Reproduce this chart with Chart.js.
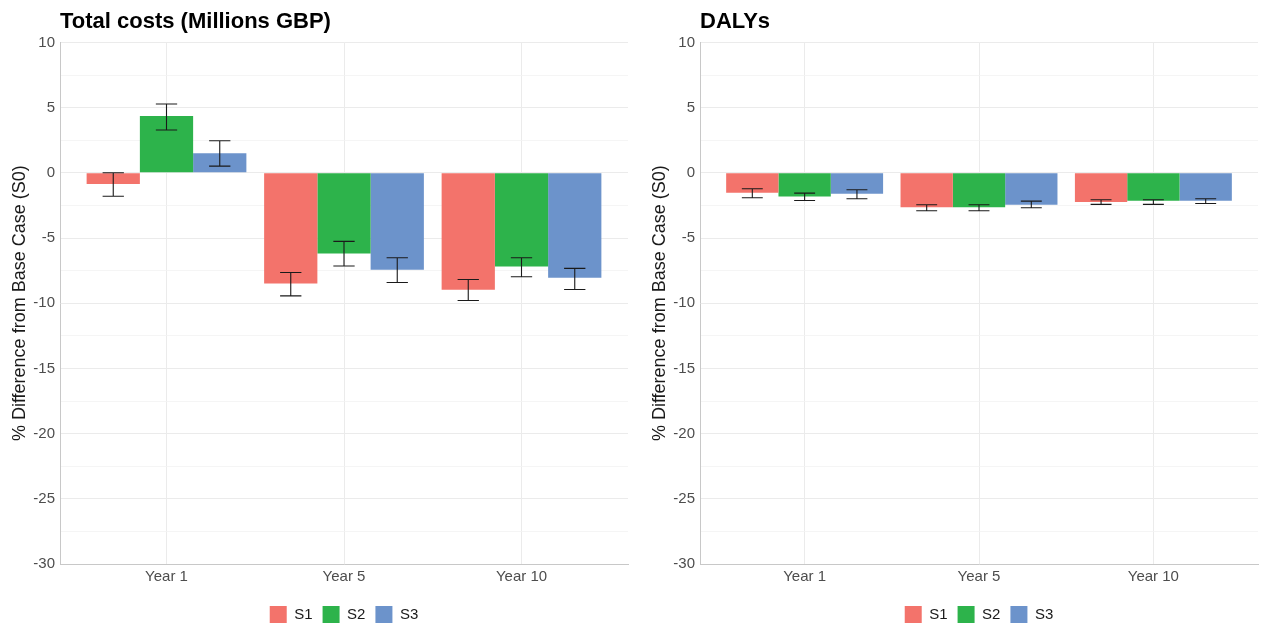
<!DOCTYPE html>
<html><head><meta charset="utf-8">
<script src="https://cdn.jsdelivr.net/npm/chart.js@4"></script>
<style>
html,body{margin:0;padding:0;background:#fff;}
#wrap{width:1261px;height:624px;position:relative;overflow:hidden;}
.pane{position:absolute;top:0;height:624px;}
</style></head><body>
<div id="wrap">
<div class="pane" style="left:0;width:640px"><canvas id="c1" width="640" height="624"></canvas></div>
<div class="pane" style="left:640px;width:621px"><canvas id="c2" width="621" height="624"></canvas></div>
</div>
<script>
const categories = ['Year 1','Year 5','Year 10'];
const seriesNames = ['S1','S2','S3'];
const seriesColors = ['#F3736B','#2DB34B','#6C93CB'];

// Total costs
const costS1 = [-0.85, -8.49, -8.97];
const costS2 = [4.36, -6.18, -7.18];
const costS3 = [1.49, -7.44, -8.05];
const costS1Lo = [-1.80, -9.44, -9.79], costS1Hi = [0.00, -7.64, -8.18];
const costS2Lo = [3.28, -7.15, -7.97], costS2Hi = [5.28, -5.26, -6.51];
const costS3Lo = [0.51, -8.41, -8.95], costS3Hi = [2.46, -6.51, -7.33];

// DALYs
const dalyS1 = [-1.53, -2.65, -2.24];
const dalyS2 = [-1.81, -2.65, -2.14];
const dalyS3 = [-1.61, -2.45, -2.14];
const dalyS1Lo = [-1.91, -2.91, -2.42], dalyS1Hi = [-1.22, -2.45, -2.07];
const dalyS2Lo = [-2.12, -2.91, -2.42], dalyS2Hi = [-1.56, -2.45, -2.07];
const dalyS3Lo = [-1.99, -2.68, -2.35], dalyS3Hi = [-1.30, -2.17, -1.99];

const FONT = "'Liberation Sans', Arial, sans-serif";

const errorBars = {
  id: 'errorBars',
  afterDatasetsDraw(chart) {
    const ctx = chart.ctx, ys = chart.scales.y;
    chart.data.datasets.forEach((ds, di) => {
      const meta = chart.getDatasetMeta(di);
      meta.data.forEach((bar, i) => {
        const lo = ys.getPixelForValue(ds.errLo[i]);
        const hi = ys.getPixelForValue(ds.errHi[i]);
        const half = bar.width * 0.2;
        ctx.save();
        ctx.strokeStyle = '#1a1a1a';
        ctx.lineWidth = 1.1;
        ctx.beginPath();
        ctx.moveTo(bar.x, lo); ctx.lineTo(bar.x, hi);
        ctx.moveTo(bar.x - half, lo); ctx.lineTo(bar.x + half, lo);
        ctx.moveTo(bar.x - half, hi); ctx.lineTo(bar.x + half, hi);
        ctx.stroke();
        ctx.restore();
      });
    });
  }
};

function isMajor(v) { return Math.abs(v % 5) < 1e-9; }

function makeChart(id, title, vals, los, his, padRight) {
  const datasets = seriesNames.map((n, s) => ({
    label: n,
    data: vals[s].map((v, i) => ({x: i, y: v})),
    errLo: los[s], errHi: his[s],
    backgroundColor: seriesColors[s],
    borderWidth: 0,
    categoryPercentage: 0.9,
    barPercentage: 1.0
  }));
  return new Chart(document.getElementById(id), {
    type: 'bar',
    data: {datasets},
    plugins: [errorBars],
    options: {
      responsive: false,
      animation: false,
      layout: {padding: {left: 0, right: padRight, top: 0, bottom: -9}},
      plugins: {
        tooltip: {enabled: false},
        title: {
          display: true, text: title, align: 'start', fullSize: false,
          color: '#000', font: {family: FONT, size: 22, weight: 'bold'},
          padding: {top: 9, bottom: 7}
        },
        legend: {
          position: 'bottom', fullSize: false,
          labels: {
            boxWidth: 17, boxHeight: 17, padding: 10,
            color: '#1a1a1a', font: {family: FONT, size: 15}
          }
        }
      },
      scales: {
        x: {
          type: 'linear', min: -0.6, max: 2.6, offset: false,
          afterBuildTicks(scale) { scale.ticks = categories.map((c, i) => ({value: i})); },
          afterFit(scale) { scale.height = 32; },
          ticks: {
            callback: (v) => categories[v] !== undefined ? categories[v] : '',
            color: '#4D4D4D', font: {family: FONT, size: 15}, padding: 4,
            autoSkip: false, maxRotation: 0
          },
          grid: {color: '#EBEBEB', lineWidth: 1, drawTicks: false, offset: false},
          border: {display: true, color: '#C8C8C8', width: 1}
        },
        y: {
          min: -30, max: 10,
          afterFit(scale) { scale.width = 60; },
          ticks: {
            stepSize: 2.5, autoSkip: false,
            callback: (v) => isMajor(v) ? String(v) : '',
            color: '#4D4D4D', font: {family: FONT, size: 15}, padding: 5
          },
          grid: {
            drawTicks: false,
            color: (c) => (c.tick && isMajor(c.tick.value)) ? '#EBEBEB' : '#F2F2F2',
            lineWidth: (c) => (c.tick && isMajor(c.tick.value)) ? 1 : 0.8
          },
          border: {display: true, color: '#C8C8C8', width: 1},
          title: {
            display: true, text: '% Difference from Base Case (S0)',
            color: '#1a1a1a', font: {family: FONT, size: 18}, padding: {top: 9, bottom: 0}
          }
        }
      }
    }
  });
}

makeChart('c1', 'Total costs (Millions GBP)', [costS1, costS2, costS3],
  [costS1Lo, costS2Lo, costS3Lo], [costS1Hi, costS2Hi, costS3Hi], 12);
makeChart('c2', 'DALYs', [dalyS1, dalyS2, dalyS3],
  [dalyS1Lo, dalyS2Lo, dalyS3Lo], [dalyS1Hi, dalyS2Hi, dalyS3Hi], 3);
</script>
</body></html>
